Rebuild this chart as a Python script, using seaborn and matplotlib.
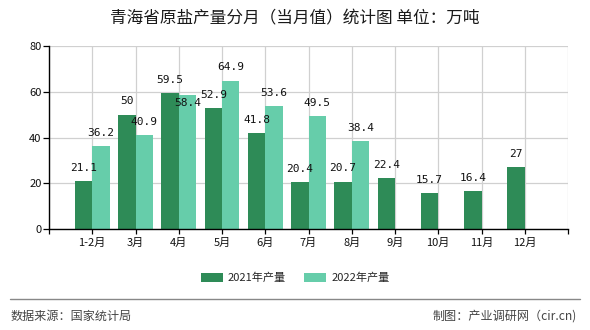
import matplotlib
matplotlib.use("Agg")
import matplotlib.pyplot as plt
import seaborn as sns
import pandas as pd
import numpy as np
from matplotlib.patches import Patch

months = ["1-2月", "3月", "4月", "5月", "6月", "7月", "8月", "9月", "10月", "11月", "12月"]
y2021 = [21.1, 50, 59.5, 52.9, 41.8, 20.4, 20.7, 22.4, 15.7, 16.4, 27]
y2022 = [36.2, 40.9, 58.4, 64.9, 53.6, 49.5, 38.4, None, None, None, None]
series = ["2021年产量", "2022年产量"]
colors = ["#2e8b57", "#66cdaa"]
yticks = [0, 20, 40, 60, 80]

rows = []
for m, a, b in zip(months, y2021, y2022):
    rows.append({"month": m, "series": series[0], "value": a})
    if b is not None:
        rows.append({"month": m, "series": series[1], "value": b})
df = pd.DataFrame(rows)

sns.set_theme(style="white")
plt.rcParams["font.family"] = ["Noto Sans CJK SC", "DejaVu Sans"]

fig = plt.figure(figsize=(5.9, 3.3), dpi=100)
ax = fig.add_axes([49/590, 1-229/330, (568-49)/590, (229-46)/330])

sns.barplot(data=df, x="month", y="value", hue="series", order=months,
            hue_order=series, palette=colors, width=0.8, dodge=True,
            saturation=1, ax=ax, legend=False, errorbar=None,
            linewidth=0, edgecolor="none")

# value labels; the 2022 label next to a taller 2021 bar is pushed down (as in reference)
vals = [y2021, y2022]
for si, cont in enumerate(ax.containers):
    for patch in cont.patches:
        h = patch.get_height()
        if h is None or np.isnan(h) or h == 0:
            continue
        xc = patch.get_x() + patch.get_width() / 2
        dy = 9.5
        if si == 1:
            idx = int(round(xc))
            if 0 <= idx < len(y2021) and y2021[idx] > h and y2021[idx] - h < 3:
                dy = -5.5
        ax.annotate(f"{h:g}", (xc, h), xytext=(0, dy), textcoords="offset points",
                    ha="center", va="center", fontsize=8,
                    family=["DejaVu Sans Mono"], color="#111111")

ax.set_xlim(-1, 11)
ax.set_ylim(0, 80)
ax.set_yticks(yticks)
ax.set_yticklabels([str(v) for v in yticks], fontsize=8, color="#111111")
ax.set_xticks(range(-1, 12))
ax.set_xticklabels([""] + months + [""], fontsize=8, color="#111111")
ax.set_xlabel("")
ax.set_ylabel("")
ax.grid(True, color="#d0d0d0", linewidth=0.9)
ax.set_axisbelow(True)
for s in ["top", "right"]:
    ax.spines[s].set_visible(False)
for s in ["left", "bottom"]:
    ax.spines[s].set_color("black")
    ax.spines[s].set_linewidth(1.0)
ax.tick_params(axis="y", which="major", length=4.3, width=0.9, color="black",
               left=True, pad=1)
ax.tick_params(axis="x", which="major", length=3.5, width=0.9, color="black",
               bottom=True, pad=3)

fig.text(0.5, 1-19/330, "青海省原盐产量分月（当月值）统计图 单位：万吨", ha="center",
         va="center", fontsize=12, color="#1a1a1a")

handles = [Patch(facecolor=c, edgecolor="none") for c in colors]
fig.legend(handles, series, loc="center", bbox_to_anchor=(0.5, 1-278/330), ncol=2,
           frameon=False, fontsize=8, handlelength=2.0, handleheight=0.8,
           columnspacing=1.6, handletextpad=0.45)

fig.add_artist(plt.Line2D([10/590, 580/590], [1-299/330, 1-299/330],
                          color="#888888", linewidth=1.0))
fig.text(11/590, 1-316/330, "数据来源：国家统计局", ha="left", va="center",
         fontsize=8.7, color="#444444")
fig.text(577/590, 1-316/330, "制图：产业调研网（cir.cn)", ha="right", va="center",
         fontsize=8.7, color="#444444")

fig.savefig("out.png", dpi=100)
